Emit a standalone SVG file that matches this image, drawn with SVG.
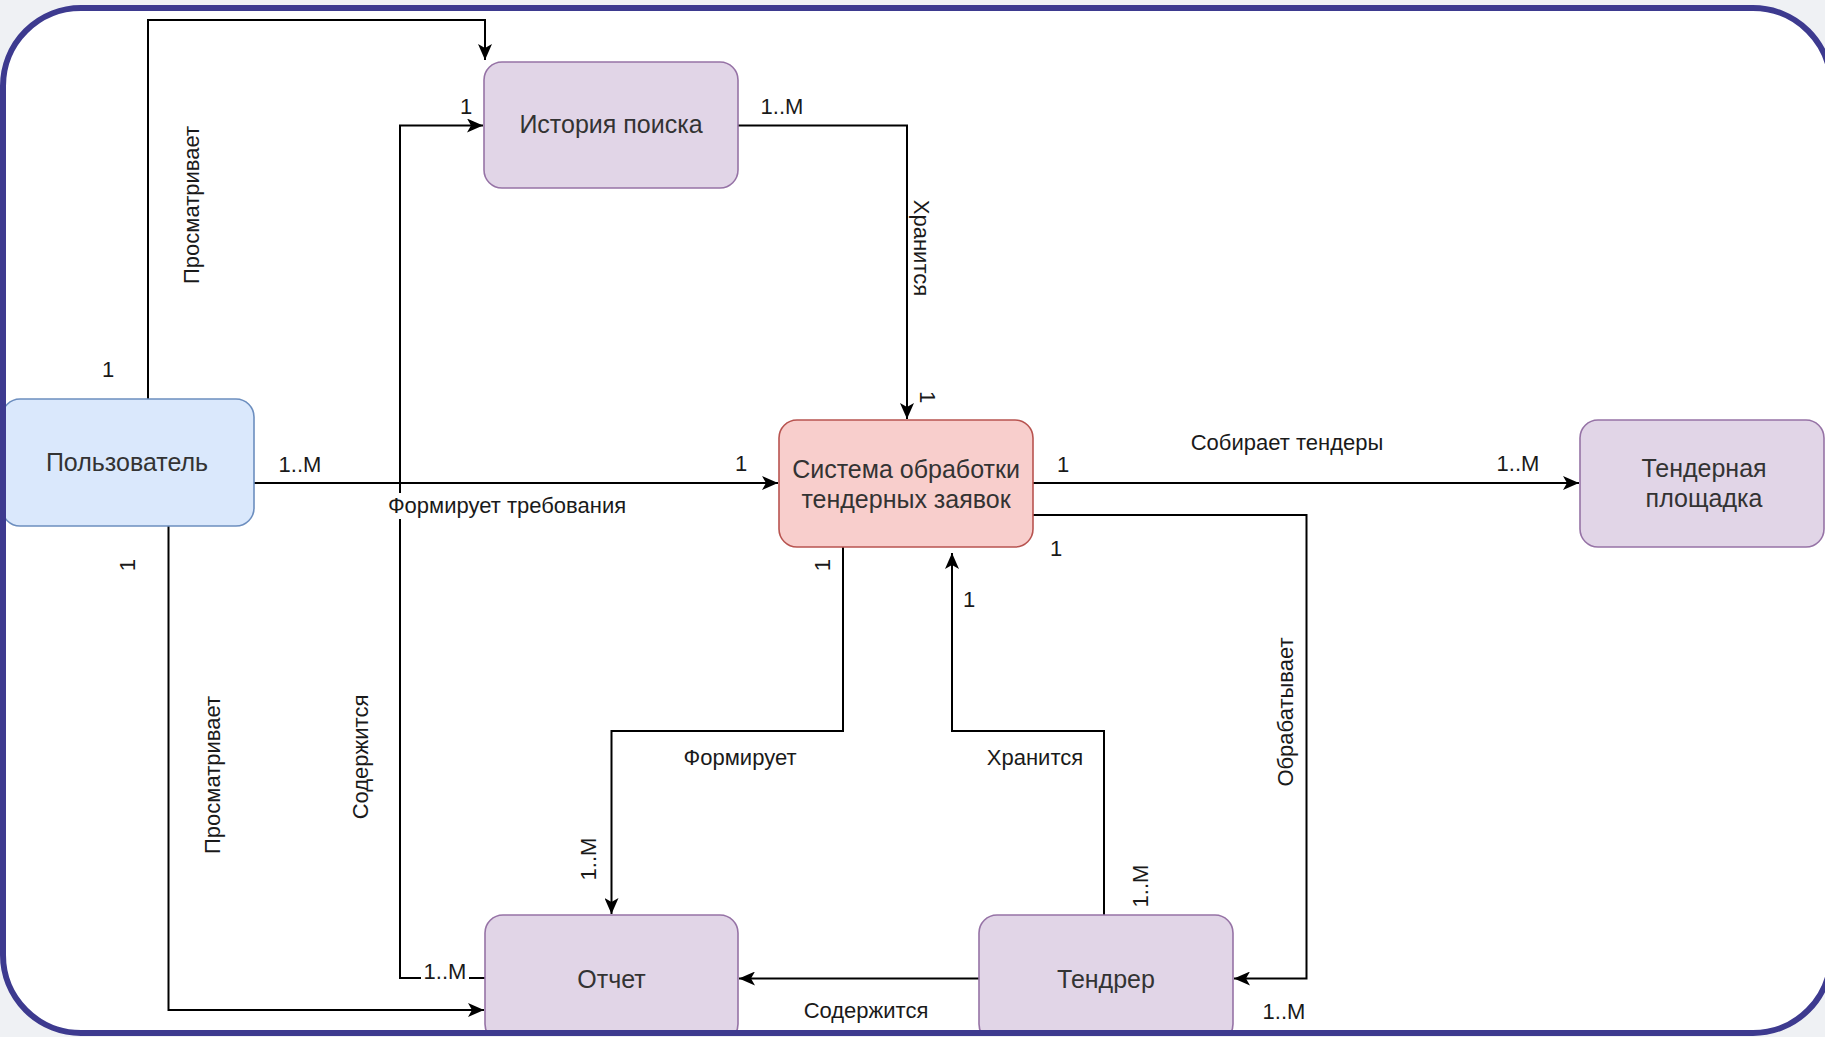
<svg xmlns="http://www.w3.org/2000/svg" width="1825" height="1037" viewBox="0 0 1825 1037">
<style>
.node rect{stroke-width:1.6}
.blue rect{fill:#dae8fc;stroke:#6c8ebf}
.purple rect{fill:#e1d5e7;stroke:#9673a6}
.red rect{fill:#f8cecc;stroke:#b85450}
.nt{font-family:"Liberation Sans",Arial,sans-serif;font-size:25px;fill:#333333;text-anchor:middle}
.lb{font-family:"Liberation Sans",Arial,sans-serif;font-size:22px;fill:#1a1a1a;text-anchor:middle}
.edge{fill:none;stroke:#000000;stroke-width:2}
</style>
<defs>
<marker id="arr" viewBox="0 0 16 14" refX="16" refY="7" markerWidth="16" markerHeight="14" orient="auto" markerUnits="userSpaceOnUse">
<path d="M0,0 L16,7 L0,14 L4,7 Z" fill="#000000"/>
</marker>
<clipPath id="frameclip"><rect x="3" y="8" width="1828" height="1025" rx="78" ry="78"/></clipPath>
</defs>
<rect x="0" y="0" width="1825" height="1037" fill="#eff1f4"/>
<rect x="3" y="8" width="1828" height="1025" rx="78" ry="78" fill="#ffffff"/>
<g clip-path="url(#frameclip)">
<g id="connectors">
<path class="edge" d="M148,399 V20 H485 V60" marker-end="url(#arr)"/>
<path class="edge" d="M485,978 H400 V125.5 H483" marker-end="url(#arr)"/>
<path class="edge" d="M254,483 H778" marker-end="url(#arr)"/>
<path class="edge" d="M738,125.5 H907 V419" marker-end="url(#arr)"/>
<path class="edge" d="M1033,483 H1579" marker-end="url(#arr)"/>
<path class="edge" d="M1033,515 H1306.5 V978.5 H1234" marker-end="url(#arr)"/>
<path class="edge" d="M843,547 V731 H611.5 V914" marker-end="url(#arr)"/>
<path class="edge" d="M1104,915 V731 H952 V553" marker-end="url(#arr)"/>
<path class="edge" d="M979,978.5 H739" marker-end="url(#arr)"/>
<path class="edge" d="M168.5,526 V1010 H484" marker-end="url(#arr)"/>
<g id="edge-labels">
<text class="lb" x="192" y="212" transform="rotate(-90 192 205)">Просматривает</text>
<text class="lb" x="108" y="377">1</text>
<text class="lb" x="466" y="114">1</text>
<text class="lb" x="361" y="764" transform="rotate(-90 361 757)">Содержится</text>
<rect x="421" y="957" width="48" height="24" fill="#ffffff"/>
<text class="lb" x="445" y="979">1..M</text>
<text class="lb" x="300" y="472">1..M</text>
<text class="lb" x="741" y="471">1</text>
<rect x="382" y="493" width="250" height="26" fill="#ffffff"/>
<text class="lb" x="507" y="513">Формирует требования</text>
<text class="lb" x="782" y="114">1..M</text>
<text class="lb" x="921" y="255" transform="rotate(90 921 248)">Хранится</text>
<text class="lb" x="927" y="404" transform="rotate(90 927 397)">1</text>
<text class="lb" x="1063" y="472">1</text>
<text class="lb" x="1287" y="450">Собирает тендеры</text>
<text class="lb" x="1518" y="471">1..M</text>
<text class="lb" x="1056" y="556">1</text>
<text class="lb" x="1285.5" y="719" transform="rotate(-90 1285.5 712)">Обрабатывает</text>
<text class="lb" x="1284" y="1019">1..M</text>
<text class="lb" x="823" y="572" transform="rotate(-90 823 565)">1</text>
<text class="lb" x="740" y="765">Формирует</text>
<text class="lb" x="589" y="866" transform="rotate(-90 589 859)">1..M</text>
<text class="lb" x="969" y="607">1</text>
<text class="lb" x="1035" y="765">Хранится</text>
<text class="lb" x="1141" y="893" transform="rotate(-90 1141 886)">1..M</text>
<text class="lb" x="866" y="1018">Содержится</text>
<text class="lb" x="128" y="572" transform="rotate(-90 128 565)">1</text>
<text class="lb" x="213" y="782" transform="rotate(-90 213 775)">Просматривает</text>
</g>
</g>
<g id="node-history" class="node purple">
<rect x="484" y="62" width="254" height="126" rx="18" ry="18"/>
<text class="nt" x="611" y="133">История поиска</text>
</g>
<g id="node-user" class="node blue">
<rect x="2" y="399" width="252" height="127" rx="18" ry="18"/>
<text class="nt" x="127" y="471">Пользователь</text>
</g>
<g id="node-system" class="node red">
<rect x="779" y="420" width="254" height="127" rx="18" ry="18"/>
<text class="nt" x="906" y="478">Система обработки</text>
<text class="nt" x="906" y="508">тендерных заявок</text>
</g>
<g id="node-platform" class="node purple">
<rect x="1580" y="420" width="244" height="127" rx="18" ry="18"/>
<text class="nt" x="1704" y="477">Тендерная</text>
<text class="nt" x="1704" y="507">площадка</text>
</g>
<g id="node-report" class="node purple">
<rect x="485" y="915" width="253" height="127" rx="18" ry="18"/>
<text class="nt" x="611.5" y="988">Отчет</text>
</g>
<g id="node-tender" class="node purple">
<rect x="979" y="915" width="254" height="127" rx="18" ry="18"/>
<text class="nt" x="1106" y="988">Тендрер</text>
</g>
</g>
<rect x="3" y="8" width="1828" height="1025" rx="78" ry="78" fill="none" stroke="#3d3a8f" stroke-width="6"/>
</svg>
